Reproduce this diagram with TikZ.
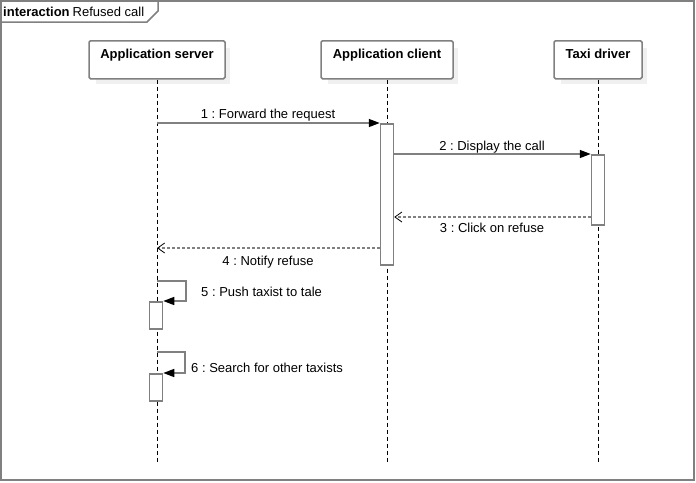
\documentclass[tikz,border=0pt]{standalone}
\usepackage{fontspec}
\setmainfont{Liberation Sans}
\usetikzlibrary{arrows.meta,backgrounds}
\definecolor{lg}{RGB}{128,128,128}
\definecolor{sh}{RGB}{240,240,240}
\frenchspacing
\begin{document}
\begin{tikzpicture}[x=1pt,y=-1pt,
  every node/.style={font=\fontsize{13}{15}\selectfont, inner sep=0pt},
  head/.style={draw=lg, line width=1.5pt, fill=white, rounded corners=1.5pt,
    font=\fontsize{13}{15}\selectfont\bfseries, text height=18pt, text depth=20pt,
    inner ysep=0pt, anchor=north},
  shadow/.style={fill=sh},
  lifeline/.style={draw=black, line width=1pt, dash pattern=on 4pt off 3pt},
  act/.style={draw=lg, fill=white, line width=1.5pt, minimum width=13pt, anchor=north},
  msg/.style={draw=lg, line width=1.5pt, -{Triangle[length=11pt,width=8pt,black]}},
  ret/.style={draw=lg, line width=1.2pt, dash pattern=on 3pt off 2pt,
    -{Straight Barb[length=7pt,width=10pt,black,line width=0.8pt]}},
  lbl/.style={anchor=base},
  frame/.style={draw=lg, line width=1.5pt}
]
\useasboundingbox (0,0) rectangle (696,482);

% frame
\draw[frame] (1,1) rectangle (694,480);
\node[anchor=base west] (ftitle) at (3,16) {\textbf{interaction}\hspace{3pt}Refused call};
\draw[frame] (1,22) -- (147,22) -- (158,11) -- (158,1);

% heads
\node[head, minimum width=136pt] (hs) at (157,40) {Application server};
\node[head, minimum width=132pt] (hc) at (387,40) {Application client};
\node[head, minimum width=88pt] (ht) at (598,40) {Taxi driver};
\begin{scope}[on background layer]
  \foreach \h in {hs,hc,ht}
    \fill[shadow] ([shift={(8,8)}]\h.north west) rectangle ([shift={(4,4)}]\h.south east);
\end{scope}

% lifelines
\coordinate (es) at (157,462);
\coordinate (ec) at (387,462);
\coordinate (et) at (598,462);
\draw[lifeline] (hs.south) -- (es);
\draw[lifeline] (hc.south) -- (ec);
\draw[lifeline] (ht.south) -- (et);

% activations
\node[act, minimum height=141pt] (ac1) at (387,123) {};
\node[act, minimum height=70pt] (at1) at (598,154) {};
\node[act, minimum height=27pt] (as1) at (156,301) {};
\node[act, minimum height=27pt] (as2) at (156,373) {};

% message 1
\coordinate (m1) at (157,123);
\draw[msg] (m1) -- (ac1.north west);
\node[lbl] (l1) at (268,118) {1 : Forward the request};

% message 2
\draw[msg] (ac1.east |- at1.north) -- (at1.north west);
\node[lbl] (l2) at (492,150) {2 : Display the call};

% message 3
\coordinate (m3) at (598,217);
\draw[ret] (at1.west |- m3) -- (ac1.east |- m3);
\node[lbl] (l3) at (492,232) {3 : Click on refuse};

% message 4
\coordinate (m4) at (157,248);
\draw[ret] (ac1.west |- m4) -- (m4);
\node[lbl] (l4) at (268,265) {4 : Notify refuse};

% message 5
\coordinate (m5) at (157,281);
\coordinate (m5r) at (186,281);
\draw[msg] (m5) -- (m5r) -- (m5r |- as1.north) -- (as1.north east);
\node[anchor=base west] (l5) at (201,296) {5 : Push taxist to tale};

% message 6
\coordinate (m6) at (157,352);
\coordinate (m6r) at (185,352);
\draw[msg] (m6) -- (m6r) -- (m6r |- as2.north) -- (as2.north east);
\node[anchor=base west] (l6) at (191,372) {6 : Search for other taxists};
\end{tikzpicture}
\end{document}
